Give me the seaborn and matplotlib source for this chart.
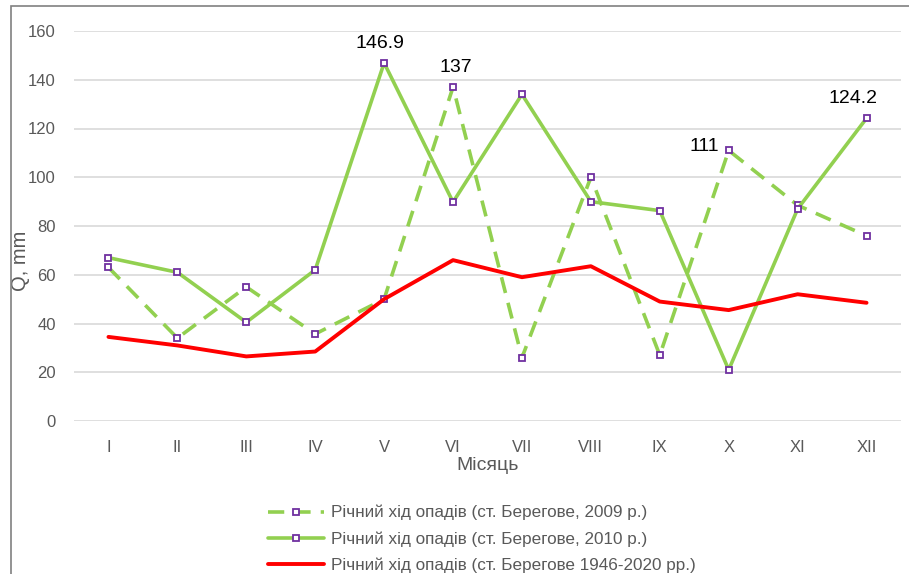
import numpy as np
import pandas as pd
import matplotlib
matplotlib.use("Agg")
import matplotlib.pyplot as plt
from matplotlib.patches import Rectangle
import seaborn as sns

sns.set_theme(style="white")
plt.rcParams['font.family'] = ['Liberation Sans', 'DejaVu Sans']

months = ["I", "II", "III", "IV", "V", "VI", "VII", "VIII", "IX", "X", "XI", "XII"]
rain_2009 = [63, 34, 55, 35.7, 50, 137, 26, 100, 27, 111, 88.5, 76]
rain_2010 = [67, 61, 40.5, 62, 146.9, 89.8, 134, 90, 86.3, 21, 87, 124.2]
rain_norm = [34.5, 31, 26.5, 28.5, 50, 66, 59, 63.5, 49, 45.5, 52, 48.5]

lbl_2009 = "Річний хід опадів (ст. Берегове, 2009 р.)"
lbl_2010 = "Річний хід опадів (ст. Берегове, 2010 р.)"
lbl_norm = "Річний хід опадів (ст. Берегове 1946-2020 рр.)"

green = "#92D050"
red = "#FF0000"
purple = "#7030A0"
gray = "#595959"

df = pd.DataFrame({"month": months, "idx": np.arange(len(months)),
                   "y2009": rain_2009, "y2010": rain_2010, "norm": rain_norm})

fig = plt.figure(figsize=(9.09, 5.74), dpi=100)
ax = fig.add_axes([74/909, 1-421/574, 827/909, 390/574])

mk = dict(marker="s", markersize=4.5, markerfacecolor="white",
          markeredgecolor=purple, markeredgewidth=1.3)

sns.lineplot(data=df, x="idx", y="y2009", ax=ax, color=green, lw=2.6,
             label=lbl_2009, dashes=False, **mk)
ax.lines[-1].set_dashes((4.5, 2.8))
sns.lineplot(data=df, x="idx", y="y2010", ax=ax, color=green, lw=2.6,
             label=lbl_2010, **mk)
sns.lineplot(data=df, x="idx", y="norm", ax=ax, color=red, lw=2.8,
             label=lbl_norm)

for ln in ax.lines:
    ln.set_clip_on(False)

ax.set_xlim(-0.5, 11.5)
ax.set_ylim(0, 160)
ax.set_yticks(range(0, 161, 20))
ax.set_xticks(df["idx"])
ax.set_xticklabels(months)
ax.grid(axis="y", color="#D9D9D9", lw=1.2)
ax.set_axisbelow(True)
for s in ax.spines.values():
    s.set_visible(False)
ax.tick_params(axis="both", length=0, labelsize=12, colors=gray)
ax.tick_params(axis="x", pad=14)
ax.tick_params(axis="y", pad=13)

ax.set_xlabel("Місяць", fontsize=14, color=gray, labelpad=1)
ax.set_ylabel("Q, mm", fontsize=14.5, color=gray)
ax.yaxis.set_label_coords(-0.053, 0.41)

# data labels
ax.annotate("146.9", (4, 146.9), xytext=(-3, 8), textcoords="offset points",
            ha="center", va="bottom", fontsize=14, color="black")
ax.annotate("137", (5, 137), xytext=(2, 8), textcoords="offset points",
            ha="center", va="bottom", fontsize=14, color="black")
ax.annotate("111", (9, 111), xytext=(-7, 3), textcoords="offset points",
            ha="right", va="center", fontsize=14, color="black")
ax.annotate("124.2", (11, 124.2), xytext=(-10, 8), textcoords="offset points",
            ha="center", va="bottom", fontsize=14, color="black")

leg = ax.legend(loc="upper left", bbox_to_anchor=(268/909, 1-505/574),
                bbox_transform=fig.transFigure, frameon=False, fontsize=12.3,
                handlelength=3.3, handletextpad=0.4, labelspacing=0.62,
                borderaxespad=0, borderpad=0)
for t in leg.get_texts():
    t.set_color(gray)

fig.patches.append(Rectangle((11/909, -0.01), 1.0, 1-6/574 + 0.01,
                             transform=fig.transFigure, fill=False,
                             edgecolor="#808080", lw=1.2))

fig.savefig("out.png", dpi=100)
